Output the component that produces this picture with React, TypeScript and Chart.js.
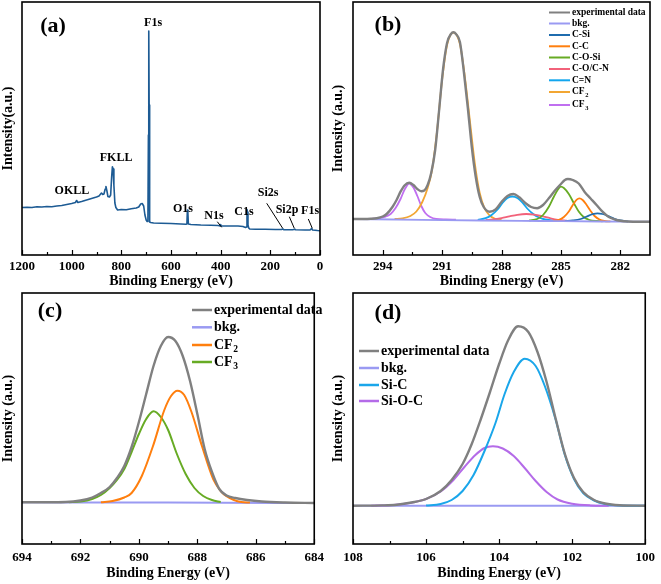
import React, { useEffect, useRef } from "react";
import { Chart, registerables } from "chart.js";

Chart.register(...registerables);

const SERIF = "'Liberation Serif', 'Times New Roman', Times, serif";

// ---------------- (a) survey spectrum ----------------
const surveyEnergy = [
  1200, 1180, 1160, 1140, 1120, 1100, 1080, 1060, 1040, 1020, 1000, 985, 980, 975, 960, 940, 920, 900, 890,
  880, 875, 870, 865, 862, 858, 854, 848, 843, 839, 836, 833, 830, 826, 822, 815, 800, 780, 760, 740, 730,
  722, 716, 710, 705, 700, 696, 693, 691, 690, 689, 688, 686, 682, 670, 640, 600, 560, 540, 536, 534, 532,
  530, 520, 480, 440, 410, 402, 400, 398, 360, 330, 310, 300, 296, 294, 292, 290, 287, 283, 260, 220, 180,
  155, 150, 145, 110, 102, 98, 60, 40, 34, 30, 20, 10, 0,
];
const surveyIntensity = [
  47.5, 47.8, 47.5, 48.2, 48, 48.5, 48.3, 49, 49.5, 50.5, 51.5, 52.5, 54.5, 52.5, 53.5, 55, 56.5, 58, 59,
  62, 60.5, 61, 66, 68.5, 64, 58.5, 58, 60, 78, 88.3, 86, 70, 52, 47.5, 45, 45.5, 45.3, 46.3, 47, 48,
  51, 51.5, 49, 40, 35, 33.5, 34, 120, 224, 224, 150, 33, 32.5, 32, 31.8, 31.5, 31, 30.8, 31, 45, 42,
  31, 30.5, 30, 29.8, 29.5, 29, 30.5, 29.3, 29, 29, 28.5, 27.5, 28, 45.5, 43, 30, 27, 26, 25.8, 25.7, 25.5,
  25.5, 26, 25.3, 25.3, 25.8, 25.2, 25, 25, 26.5, 25, 24.8, 24.5, 24.3,
];
const surveyTicks = [1200, 1000, 800, 600, 400, 200, 0];
const surveyMinorTicks = [1100, 900, 700, 500, 300, 100];
const surveyPeakNames = ["F1s", "FKLL", "OKLL", "O1s", "N1s", "C1s", "Si2s", "Si2p", "F1s"];
const surveyPeakLabelEnergy = [672, 821, 999, 552, 427, 306, 209, 133, 40];
const surveyPeakLabelHeight = [232, 97, 64, 46, 39, 43, 62, 45, 44];
const leaderFromEnergy = [413.6, 214.6, 123.6, 47.1];
const leaderFromHeight = [33.3, 51.7, 38.3, 36];
const leaderToEnergy = [395.9, 150.2, 103.5, 31];
const leaderToHeight = [27.7, 26.7, 26.7, 26.7];

// ---------------- (b) C 1s ----------------
const c1sTicks = [294, 291, 288, 285, 282];
const c1sMinorTicks = [292.5, 289.5, 286.5, 283.5];
const c1sNames = ["experimental data", "bkg.", "C-Si", "C-C", "C-O-Si", "C-O/C-N", "C=N", "CF_2", "CF_3"];

const c1sExpEnergy = [
  295.5, 295.0, 294.6, 294.3, 294.0, 293.8, 293.5, 293.3, 293.1, 292.9, 292.66, 292.45, 292.25, 292.05, 291.9,
  291.73, 291.55, 291.35, 291.15, 290.95, 290.75, 290.55, 290.43, 290.3, 290.1, 289.9, 289.7, 289.5, 289.3,
  289.1, 288.9, 288.6, 288.3, 288.0, 287.7, 287.4, 287.1, 286.8, 286.5, 286.2, 285.9, 285.6, 285.3, 285.0,
  284.8, 284.65, 284.4, 284.1, 283.8, 283.5, 283.2, 282.9, 282.6, 282.3, 282.0, 281.6, 281.0, 280.5,
];
const c1sExpValue = [
  36, 36, 36.2, 36.8, 38.5, 41, 48.3, 55, 63.3, 69.5, 72.3, 70, 66, 63.8, 64.5, 70, 82, 105, 145, 186, 212, 221,
  222.7, 221, 213, 183, 147, 108, 78, 58, 48, 43.3, 45.5, 53, 59, 61, 57.7, 52, 48, 46.8, 50, 57, 64.5, 71,
  75, 76, 75, 71.5, 63, 56.5, 50, 43.3, 38.3, 35.7, 34.2, 33.5, 33.3, 33.3,
];
const c1sBkgEnergy = [295.5, 292, 289, 286, 283, 280.5];
const c1sBkgValue = [36, 35.2, 34.5, 34, 33.5, 33.3];
const cSiEnergy = [284.8, 284.4, 284.0, 283.7, 283.4, 283.15, 282.9, 282.6, 282.3, 282.0, 281.6];
const cSiValue = [33.8, 34.5, 36, 38.5, 40.8, 41.7, 41, 38.8, 36.2, 34.5, 33.6];
const ccEnergy = [285.4, 285.1, 284.85, 284.6, 284.4, 284.2, 284.07, 283.9, 283.7, 283.5, 283.3, 283.05, 282.8, 282.5];
const ccValue = [34.2, 35.2, 38, 43.5, 50, 55.3, 56.7, 55, 50, 44, 39, 35.5, 34, 33.6];
const coSiEnergy = [286.6, 286.2, 285.9, 285.6, 285.35, 285.15, 285.0, 284.85, 284.6, 284.35, 284.1, 283.85, 283.55, 283.2, 282.9];
const coSiValue = [34.5, 36, 40, 48.5, 58.5, 65.5, 68.3, 67, 61, 52, 43.5, 38, 35, 34, 33.7];
const coCnEnergy = [288.8, 288.4, 288.0, 287.6, 287.2, 286.75, 286.35, 285.95, 285.55, 285.15, 284.7];
const coCnValue = [35, 35.5, 36.8, 38.6, 40.2, 41, 40.4, 38.8, 36.8, 35.2, 34.4];
const cnEnergy = [289.2, 288.8, 288.5, 288.2, 287.95, 287.7, 287.45, 287.2, 286.95, 286.7, 286.4, 286.1, 285.8, 285.4];
const cnValue = [35.2, 36.8, 40, 45.5, 52, 57, 58.5, 57, 52.5, 46.5, 41, 37.5, 35.5, 34.6];
const cf2Energy = [
  293.4, 293.0, 292.6, 292.3, 292.0, 291.73, 291.5, 291.25, 291.0, 290.75, 290.43, 290.1, 289.85, 289.6,
  289.35, 289.1, 288.85, 288.6, 288.3, 288.0,
];
const cf2Value = [36, 36.6, 39, 43.5, 53, 67, 86, 125, 175, 210, 222.5, 211, 178, 135, 92, 62, 46.5, 39.5, 36, 35];
const cf3Energy = [294.6, 294.2, 293.9, 293.6, 293.35, 293.1, 292.88, 292.66, 292.45, 292.25, 292.05, 291.85, 291.6, 291.3, 290.8, 290.3];
const cf3Value = [36.2, 36.7, 38, 41, 47, 56, 66, 71.5, 67.5, 59, 49, 42, 38, 36, 35.5, 35.3];

// ---------------- (c) F 1s ----------------
const f1sTicks = [694, 692, 690, 688, 686, 684];
const f1sMinorTicks = [693, 691, 689, 687, 685];
const f1sNames = ["experimental data", "bkg.", "CF_2", "CF_3"];
const f1sExpEnergy = [
  694, 693, 692.5, 692, 691.6, 691.3, 691, 690.75, 690.5, 690.25, 690, 689.75, 689.5, 689.25, 689, 688.75,
  688.5, 688.25, 688, 687.75, 687.5, 687.25, 687, 686.7, 686.3, 685.8, 685, 684,
];
const f1sExpValue = [
  41.7, 41.8, 42, 43.5, 46.5, 51, 57, 66, 78, 97, 122, 150, 178, 198, 207, 203, 188, 163, 130, 95, 72, 55,
  48.5, 46, 44, 42.5, 41.5, 41,
];
const f1sBkgEnergy = [694, 689, 684];
const f1sBkgValue = [41.7, 41.4, 41];
const f1sCf2Energy = [
  691.3, 690.9, 690.5, 690.25, 689.9, 689.52, 689.13, 688.9, 688.68, 688.45, 688.2, 687.84, 687.45, 687.2,
  687.0, 686.75, 686.5, 686.2,
];
const f1sCf2Value = [41.7, 43, 46.5, 51, 68, 97.7, 134, 148, 153.3, 149, 132, 97.7, 64.3, 53, 47.7, 44, 42, 41.5];
const f1sCf3Energy = [
  692.4, 692.0, 691.6, 691.3, 691.0, 690.75, 690.5, 690.25, 690.0, 689.75, 689.5, 689.25, 689.0, 688.7,
  688.4, 688.1, 687.8, 687.5, 687.2,
];
const f1sCf3Value = [41.7, 42.5, 45, 49, 56, 64, 75, 92, 110, 125, 132.7, 127, 114, 90, 70, 56, 48, 44, 42];

// ---------------- (d) Si 2p ----------------
const si2pTicks = [108, 106, 104, 102, 100];
const si2pMinorTicks = [107, 105, 103, 101];
const si2pNames = ["experimental data", "bkg.", "Si-C", "Si-O-C"];
const si2pExpEnergy = [
  108, 107.2, 106.8, 106.4, 106.0, 105.6, 105.3, 105.0, 104.75, 104.5, 104.25, 104.0, 103.75, 103.48, 103.2,
  102.95, 102.7, 102.45, 102.2, 101.95, 101.7, 101.4, 101.1, 100.7, 100,
];
const si2pExpValue = [
  38.3, 38.6, 39.3, 41.5, 45, 53, 64, 80, 100, 125, 152, 180, 204, 217.7, 212, 192, 162, 125, 90, 66, 52, 44,
  40.5, 38.8, 38.3,
];
const si2pBkgEnergy = [108, 104, 100];
const si2pBkgValue = [38.3, 38.3, 38.3];
const siCEnergy = [
  106.0, 105.6, 105.3, 105.0, 104.7, 104.4, 104.1, 103.85, 103.6, 103.3, 103.0, 102.75, 102.45, 102.2, 101.95,
  101.7, 101.4, 101.1, 100.7, 100.0,
];
const siCValue = [38.5, 40, 44, 53, 69, 93, 121, 150, 172, 185.3, 178, 158, 124, 89, 65, 51, 43.5, 40, 38.5, 38.3];
const siOCEnergy = [
  107.5, 106.9, 106.4, 106.0, 105.6, 105.25, 104.95, 104.65, 104.4, 104.17, 103.9, 103.6, 103.3, 103.0, 102.7,
  102.4, 102.0, 101.5, 101.0,
];
const siOCValue = [38.3, 39, 41.3, 45, 52.5, 64, 77, 89, 96, 97.7, 95.5, 88, 76, 63, 52, 44.5, 40.3, 38.6, 38.3];

// ---------------- colours ----------------
const GRAY = "#808080";
const BKG = "#9a9af2";

type Series = { name: string; color: string; width: number; e: number[]; v: number[]; smooth: boolean };

interface LegendSpec {
  names: string[];
  colors: string[];
  x0: number;
  x1: number;
  tx: number;
  ys: number[];
  size: number;
  lw: number;
}

interface PanelSpec {
  tag: string;
  tagX: number;
  tagY: number;
  left: number;
  top: number;
  w: number;
  h: number;
  pad: { left: number; top: number; right: number; bottom: number };
  yW: number;
  xH: number;
  tickPad: number;
  titlePadBottom: number;
  xMin: number;
  xMax: number;
  yMax: number;
  ticks: number[];
  minor: number[];
  yTitle: string;
  series: Series[];
  legend?: LegendSpec;
  survey?: boolean;
}

function drawRich(ctx: CanvasRenderingContext2D, text: string, x: number, y: number, size: number) {
  const [main, sub] = text.split("_");
  ctx.font = `bold ${size}px ${SERIF}`;
  ctx.fillText(main, x, y);
  if (sub) {
    const w = ctx.measureText(main).width;
    ctx.font = `bold ${size * 0.68}px ${SERIF}`;
    ctx.fillText(sub, x + w + 0.5, y + size * 0.3);
  }
}

function makeDecor(spec: PanelSpec) {
  return {
    id: "decor" + spec.tag,
    afterDraw(chart: any) {
      const { ctx, chartArea: ca, scales } = chart;
      const xs = scales.x;
      const ys = scales.y;
      ctx.save();
      // ticks (inward)
      ctx.strokeStyle = "#000";
      ctx.lineWidth = 1.2;
      spec.ticks.forEach((v) => {
        const px = Math.round(xs.getPixelForValue(v)) + 0.5;
        ctx.beginPath();
        ctx.moveTo(px, ca.bottom);
        ctx.lineTo(px, ca.bottom - 5);
        ctx.stroke();
      });
      spec.minor.forEach((v) => {
        const px = Math.round(xs.getPixelForValue(v)) + 0.5;
        ctx.beginPath();
        ctx.moveTo(px, ca.bottom);
        ctx.lineTo(px, ca.bottom - 3);
        ctx.stroke();
      });
      // frame
      ctx.lineWidth = 1.6;
      ctx.strokeRect(ca.left, ca.top, ca.right - ca.left, ca.bottom - ca.top);
      // panel tag
      ctx.fillStyle = "#000";
      ctx.textAlign = "center";
      ctx.textBaseline = "middle";
      ctx.font = `bold 22px ${SERIF}`;
      ctx.fillText(spec.tag, spec.tagX, spec.tagY);
      // legend
      if (spec.legend) {
        const lg = spec.legend;
        ctx.textAlign = "left";
        lg.names.forEach((n, i) => {
          const y = lg.ys[i];
          ctx.strokeStyle = lg.colors[i];
          ctx.lineWidth = lg.lw;
          ctx.beginPath();
          ctx.moveTo(lg.x0, y);
          ctx.lineTo(lg.x1, y);
          ctx.stroke();
          ctx.fillStyle = "#000";
          drawRich(ctx, n, lg.tx, y, lg.size);
        });
      }
      // survey annotations
      if (spec.survey) {
        ctx.fillStyle = "#000";
        ctx.textAlign = "center";
        ctx.textBaseline = "middle";
        ctx.font = `bold 12px ${SERIF}`;
        surveyPeakNames.forEach((n, i) => {
          ctx.fillText(n, xs.getPixelForValue(surveyPeakLabelEnergy[i]), ys.getPixelForValue(surveyPeakLabelHeight[i]));
        });
        ctx.strokeStyle = "#000";
        ctx.lineWidth = 1;
        leaderFromEnergy.forEach((e, i) => {
          ctx.beginPath();
          ctx.moveTo(xs.getPixelForValue(e), ys.getPixelForValue(leaderFromHeight[i]));
          ctx.lineTo(xs.getPixelForValue(leaderToEnergy[i]), ys.getPixelForValue(leaderToHeight[i]));
          ctx.stroke();
        });
      }
      ctx.restore();
    },
  };
}

function buildChart(canvas: HTMLCanvasElement, spec: PanelSpec) {
  const titleFont = { family: SERIF, size: 14, weight: "bold" as const };
  return new Chart(canvas, {
    type: "line",
    data: {
      datasets: spec.series.map((s) => ({
        label: s.name,
        data: s.e.map((x, i) => ({ x, y: s.v[i] })),
        borderColor: s.color,
        backgroundColor: s.color,
        borderWidth: s.width,
        pointRadius: 0,
        fill: false,
        tension: 0,
        cubicInterpolationMode: s.smooth ? ("monotone" as const) : ("default" as const),
        borderJoinStyle: "round" as const,
      })),
    },
    options: {
      animation: false,
      responsive: false,
      devicePixelRatio: 1,
      layout: { padding: spec.pad },
      plugins: { legend: { display: false }, tooltip: { enabled: false } },
      scales: {
        x: {
          type: "linear",
          min: spec.xMin,
          max: spec.xMax,
          reverse: true,
          afterBuildTicks: (scale: any) => {
            scale.ticks = spec.ticks.map((v) => ({ value: v }));
          },
          afterFit: (scale: any) => {
            scale.height = spec.xH;
          },
          ticks: {
            color: "#000",
            font: { family: SERIF, size: 13, weight: "bold" },
            padding: spec.tickPad,
            maxRotation: 0,
            autoSkip: false,
            callback: (v: any) => String(v),
          },
          grid: { display: false, drawTicks: false },
          border: { display: false },
          title: {
            display: true,
            text: "Binding Energy (eV)",
            color: "#000",
            font: titleFont,
            padding: { top: 0, bottom: spec.titlePadBottom },
          },
        },
        y: {
          type: "linear",
          min: 0,
          max: spec.yMax,
          afterFit: (scale: any) => {
            scale.width = spec.yW;
          },
          ticks: { display: false },
          grid: { display: false, drawTicks: false },
          border: { display: false },
          title: {
            display: true,
            text: spec.yTitle,
            color: "#000",
            font: titleFont,
            padding: { top: 0, bottom: 0 },
          },
        },
      },
    },
    plugins: [makeDecor(spec)],
  } as any);
}

const panels: PanelSpec[] = [
  {
    tag: "(a)",
    tagX: 53,
    tagY: 26,
    left: 0,
    top: 0,
    w: 330,
    h: 290,
    pad: { left: 0, top: 2, right: 10, bottom: 0 },
    yW: 22,
    xH: 35,
    tickPad: 4,
    titlePadBottom: 0,
    xMin: 0,
    xMax: 1200,
    yMax: 253,
    ticks: surveyTicks,
    minor: surveyMinorTicks,
    yTitle: "Intensity(a.u.)",
    survey: true,
    series: [{ name: "survey", color: "#1d5b94", width: 1.6, e: surveyEnergy, v: surveyIntensity, smooth: false }],
  },
  {
    tag: "(b)",
    tagX: 58,
    tagY: 25,
    left: 330,
    top: 0,
    w: 331,
    h: 290,
    pad: { left: 0, top: 2, right: 11, bottom: 0 },
    yW: 23,
    xH: 35,
    tickPad: 4,
    titlePadBottom: 0,
    xMin: 280.5,
    xMax: 295.5,
    yMax: 253,
    ticks: c1sTicks,
    minor: c1sMinorTicks,
    yTitle: "Intensity (a.u.)",
    series: [
      { name: c1sNames[0], color: GRAY, width: 2.4, e: c1sExpEnergy, v: c1sExpValue, smooth: true },
      { name: c1sNames[1], color: BKG, width: 1.8, e: c1sBkgEnergy, v: c1sBkgValue, smooth: true },
      { name: c1sNames[2], color: "#1f6cae", width: 1.8, e: cSiEnergy, v: cSiValue, smooth: true },
      { name: c1sNames[3], color: "#ff7f0e", width: 1.8, e: ccEnergy, v: ccValue, smooth: true },
      { name: c1sNames[4], color: "#67ab24", width: 1.8, e: coSiEnergy, v: coSiValue, smooth: true },
      { name: c1sNames[5], color: "#f2627a", width: 1.8, e: coCnEnergy, v: coCnValue, smooth: true },
      { name: c1sNames[6], color: "#12a6ee", width: 1.8, e: cnEnergy, v: cnValue, smooth: true },
      { name: c1sNames[7], color: "#f2a632", width: 1.8, e: cf2Energy, v: cf2Value, smooth: true },
      { name: c1sNames[8], color: "#c06ff0", width: 1.8, e: cf3Energy, v: cf3Value, smooth: true },
    ],
    legend: {
      names: c1sNames,
      colors: [GRAY, BKG, "#1f6cae", "#ff7f0e", "#67ab24", "#f2627a", "#12a6ee", "#f2a632", "#c06ff0"],
      x0: 219,
      x1: 240,
      tx: 242,
      ys: [12.5, 23.5, 35, 46.3, 57.5, 69, 80.3, 92, 105],
      size: 9.5,
      lw: 2,
    },
  },
  {
    tag: "(c)",
    tagX: 50,
    tagY: 21,
    left: 0,
    top: 290,
    w: 330,
    h: 294,
    pad: { left: 0, top: 3, right: 11, bottom: 0 },
    yW: 22,
    xH: 40,
    tickPad: 6,
    titlePadBottom: 2,
    xMin: 684,
    xMax: 694,
    yMax: 251,
    ticks: f1sTicks,
    minor: f1sMinorTicks,
    yTitle: "Intensity (a.u.)",
    series: [
      { name: f1sNames[0], color: GRAY, width: 2.4, e: f1sExpEnergy, v: f1sExpValue, smooth: true },
      { name: f1sNames[2], color: "#ff7f0e", width: 2, e: f1sCf2Energy, v: f1sCf2Value, smooth: true },
      { name: f1sNames[3], color: "#67ab24", width: 2, e: f1sCf3Energy, v: f1sCf3Value, smooth: true },
      { name: f1sNames[1], color: BKG, width: 2, e: f1sBkgEnergy, v: f1sBkgValue, smooth: true },
    ],
    legend: {
      names: f1sNames,
      colors: [GRAY, BKG, "#ff7f0e", "#67ab24"],
      x0: 192,
      x1: 212,
      tx: 214,
      ys: [20, 37.3, 55, 72],
      size: 14,
      lw: 2.5,
    },
  },
  {
    tag: "(d)",
    tagX: 58,
    tagY: 23,
    left: 330,
    top: 290,
    w: 331,
    h: 294,
    pad: { left: 0, top: 3, right: 11, bottom: 0 },
    yW: 23,
    xH: 40,
    tickPad: 6,
    titlePadBottom: 2,
    xMin: 100,
    xMax: 108,
    yMax: 251,
    ticks: si2pTicks,
    minor: si2pMinorTicks,
    yTitle: "Intensity (a.u.)",
    series: [
      { name: si2pNames[0], color: GRAY, width: 2.4, e: si2pExpEnergy, v: si2pExpValue, smooth: true },
      { name: si2pNames[2], color: "#1aa6ea", width: 2, e: siCEnergy, v: siCValue, smooth: true },
      { name: si2pNames[3], color: "#b46be8", width: 2, e: siOCEnergy, v: siOCValue, smooth: true },
      { name: si2pNames[1], color: BKG, width: 2, e: si2pBkgEnergy, v: si2pBkgValue, smooth: true },
    ],
    legend: {
      names: si2pNames,
      colors: [GRAY, BKG, "#1aa6ea", "#b46be8"],
      x0: 29,
      x1: 49,
      tx: 51,
      ys: [61, 78, 95, 111],
      size: 14,
      lw: 2.5,
    },
  },
];

function Panel({ spec }: { spec: PanelSpec }) {
  const ref = useRef<HTMLCanvasElement>(null);
  useEffect(() => {
    if (!ref.current) return;
    const chart = buildChart(ref.current, spec);
    return () => chart.destroy();
  }, [spec]);
  return (
    <canvas
      ref={ref}
      width={spec.w}
      height={spec.h}
      style={{ position: "absolute", left: spec.left, top: spec.top, width: spec.w, height: spec.h }}
    />
  );
}

export default function App() {
  return (
    <div style={{ position: "absolute", left: 0, top: 0, width: 661, height: 584, background: "#fff" }}>
      {panels.map((p) => (
        <Panel key={p.tag} spec={p} />
      ))}
    </div>
  );
}
